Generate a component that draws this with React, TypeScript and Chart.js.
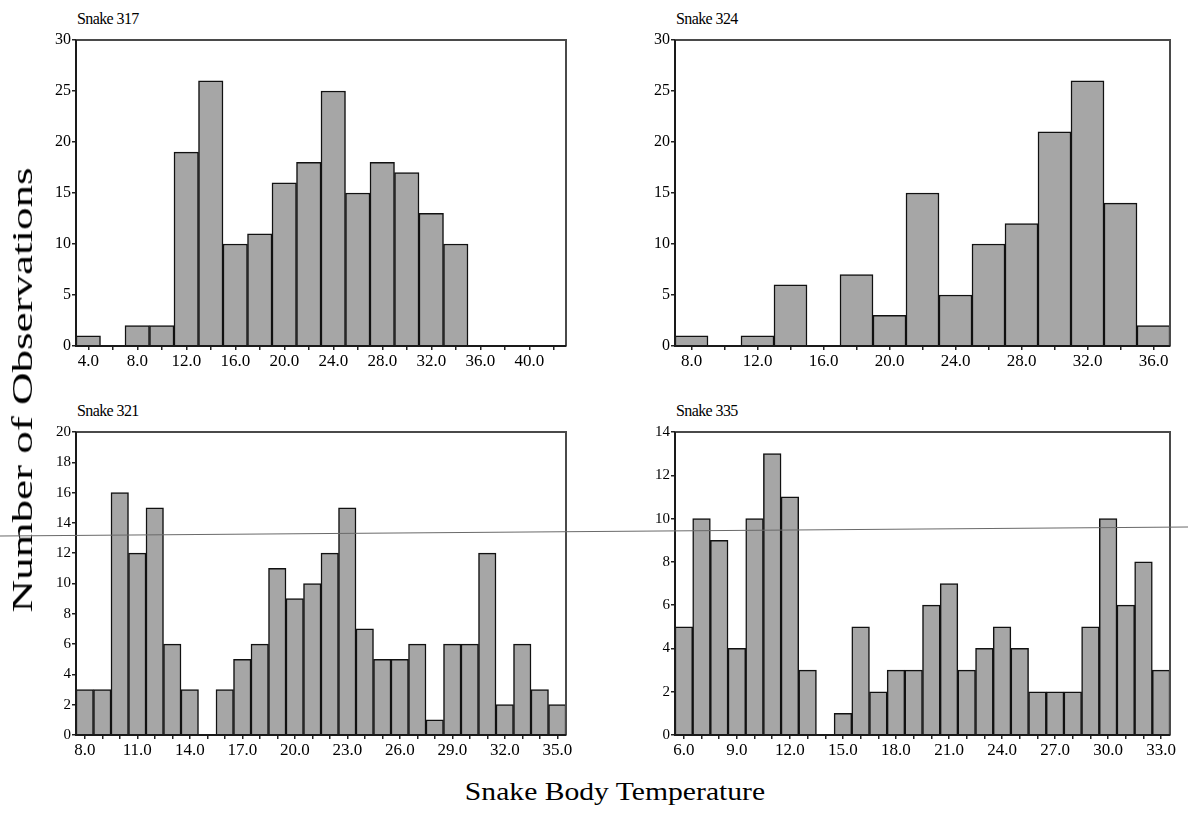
import React, { useEffect, useRef } from "react";
import { Chart, registerables } from "chart.js";

Chart.register(...registerables);

const FONT = '"Liberation Serif", serif';
Chart.defaults.font.family = FONT;

// ---- Snake 317 (bins of 2 °C) ----
const bins317 = ["4.0", "6.0", "8.0", "10.0", "12.0", "14.0", "16.0", "18.0", "20.0", "22.0", "24.0", "26.0", "28.0", "30.0", "32.0", "34.0", "36.0", "38.0", "40.0", "42.0"];
const counts317 = [1, 0, 2, 2, 19, 26, 10, 11, 16, 18, 25, 15, 18, 17, 13, 10, 0, 0, 0, 0];

// ---- Snake 324 (bins of 2 °C) ----
const bins324 = ["8.0", "10.0", "12.0", "14.0", "16.0", "18.0", "20.0", "22.0", "24.0", "26.0", "28.0", "30.0", "32.0", "34.0", "36.0"];
const counts324 = [1, 0, 1, 6, 0, 7, 3, 15, 5, 10, 12, 21, 26, 14, 2];

// ---- Snake 321 (bins of 1 °C) ----
const bins321 = ["8.0", "9.0", "10.0", "11.0", "12.0", "13.0", "14.0", "15.0", "16.0", "17.0", "18.0", "19.0", "20.0", "21.0", "22.0", "23.0", "24.0", "25.0", "26.0", "27.0", "28.0", "29.0", "30.0", "31.0", "32.0", "33.0", "34.0", "35.0"];
const counts321 = [3, 3, 16, 12, 15, 6, 3, 0, 3, 5, 6, 11, 9, 10, 12, 15, 7, 5, 5, 6, 1, 6, 6, 12, 2, 6, 3, 2];

// ---- Snake 335 (bins of 1 °C) ----
const bins335 = ["6.0", "7.0", "8.0", "9.0", "10.0", "11.0", "12.0", "13.0", "14.0", "15.0", "16.0", "17.0", "18.0", "19.0", "20.0", "21.0", "22.0", "23.0", "24.0", "25.0", "26.0", "27.0", "28.0", "29.0", "30.0", "31.0", "32.0", "33.0"];
const counts335 = [5, 10, 9, 4, 10, 13, 11, 3, 0, 1, 5, 2, 3, 3, 6, 7, 3, 4, 5, 4, 2, 2, 2, 5, 10, 6, 8, 3];

const yTitle = "Number of Observations";
const xTitle = "Snake Body Temperature";

const framePlugin = {
  id: "frame",
  afterDatasetsDraw(chart: any) {
    const { ctx, chartArea: a } = chart;
    ctx.save();
    ctx.lineWidth = 2;
    ctx.strokeStyle = "#4a4a4a";
    ctx.beginPath();
    ctx.moveTo(a.left, a.top);
    ctx.lineTo(a.right, a.top);
    ctx.lineTo(a.right, a.bottom);
    ctx.stroke();
    ctx.strokeStyle = "#1a1a1a";
    ctx.beginPath();
    ctx.moveTo(a.left, a.top);
    ctx.lineTo(a.left, a.bottom);
    ctx.lineTo(a.right, a.bottom);
    ctx.stroke();
    ctx.restore();
  },
};

const PAD_L = 50;
const PAD_T = 12;
const PAD_R = 12;
const PAD_B = 32;

type PanelProps = {
  title: string;
  bins: string[];
  counts: number[];
  yMax: number;
  yStep: number;
  labelEvery: number;
  yFont: number;
  left: number;
  top: number;
  width: number;
  height: number;
};

function Panel(p: PanelProps) {
  const ref = useRef<HTMLCanvasElement>(null);
  useEffect(() => {
    let chart: Chart | null = null;
    let cancelled = false;
    const make = () => {
      if (cancelled || !ref.current) return;
      chart = new Chart(ref.current, {
        type: "bar",
        data: {
          labels: p.bins,
          datasets: [
            {
              data: p.counts,
              backgroundColor: "#a6a6a6",
              borderColor: "#111111",
              borderWidth: 1.5,
              borderSkipped: "start",
              barPercentage: 1,
              categoryPercentage: 1,
            },
          ],
        },
        options: {
          responsive: false,
          animation: false,
          devicePixelRatio: 1,
          font: { family: FONT },
          layout: { padding: { top: PAD_T, right: PAD_R, left: 0, bottom: 0 } },
          plugins: {
            legend: { display: false },
            tooltip: { enabled: false },
            title: { display: false },
          },
          scales: {
            x: {
              type: "category",
              offset: true,
              grid: {
                display: true,
                offset: false,
                drawOnChartArea: false,
                drawTicks: true,
                tickLength: 4,
                color: "#222",
                lineWidth: 1.5,
              },
              border: { display: true, color: "#222", width: 2 },
              ticks: {
                autoSkip: false,
                maxRotation: 0,
                minRotation: 0,
                padding: 1,
                color: "#000",
                font: { family: FONT, size: 17, weight: "normal" },
                callback: (_v: any, i: number) => (i % p.labelEvery === 0 ? p.bins[i] : ""),
              },
              afterFit: (s: any) => {
                s.height = PAD_B;
              },
            },
            y: {
              min: 0,
              max: p.yMax,
              grid: {
                display: true,
                drawOnChartArea: false,
                drawTicks: true,
                tickLength: 4,
                color: "#222",
                lineWidth: 1.5,
              },
              border: { display: true, color: "#222", width: 2 },
              ticks: {
                stepSize: p.yStep,
                padding: 1,
                color: "#000",
                font: { family: FONT, size: p.yFont, weight: "normal" },
              },
              afterFit: (s: any) => {
                s.width = PAD_L;
              },
            },
          },
        },
        plugins: [framePlugin],
      });
    };
    const fonts: any = (document as any).fonts;
    if (fonts && fonts.load) {
      Promise.all([
        fonts.load('16px "Liberation Serif"'),
        fonts.load('17px "Liberation Serif"'),
      ]).then(make, make);
    } else {
      make();
    }
    return () => {
      cancelled = true;
      if (chart) chart.destroy();
    };
  }, []);

  return (
    <>
      <div
        style={{
          position: "absolute",
          left: p.left + 1,
          top: p.top - 30,
          fontFamily: FONT,
          fontSize: 16,
          lineHeight: "18px",
          color: "#000",
          letterSpacing: "-0.6px",
          whiteSpace: "nowrap",
        }}
      >
        {p.title}
      </div>
      <canvas
        ref={ref}
        width={p.width + PAD_L + PAD_R}
        height={p.height + PAD_T + PAD_B}
        style={{ position: "absolute", left: p.left - PAD_L, top: p.top - PAD_T, display: "block" }}
      />
    </>
  );
}

export default function App() {
  return (
    <div
      style={{
        position: "absolute",
        left: 0,
        top: 0,
        width: 1188,
        height: 820,
        background: "#fff",
        overflow: "hidden",
        fontFamily: FONT,
      }}
    >
      <Panel title="Snake 317" bins={bins317} counts={counts317} yMax={30} yStep={5} labelEvery={2} yFont={16}
        left={76} top={40} width={490} height={306} />
      <Panel title="Snake 324" bins={bins324} counts={counts324} yMax={30} yStep={5} labelEvery={2} yFont={16}
        left={675} top={40} width={495} height={306} />
      <Panel title="Snake 321" bins={bins321} counts={counts321} yMax={20} yStep={2} labelEvery={3} yFont={15}
        left={76} top={432} width={490} height={303} />
      <Panel title="Snake 335" bins={bins335} counts={counts335} yMax={14} yStep={2} labelEvery={3} yFont={15}
        left={675} top={432} width={495} height={303} />

      <div
        style={{
          position: "absolute",
          left: 22,
          top: 390,
          transform: "translate(-50%, -50%) rotate(-90deg) scaleX(1.5)",
          fontFamily: FONT,
          fontSize: 30,
          whiteSpace: "nowrap",
          color: "#000",
          lineHeight: "32px",
        }}
      >
        {yTitle}
      </div>
      <div
        style={{
          position: "absolute",
          left: 615,
          top: 792,
          transform: "translate(-50%, -50%) scaleX(1.14)",
          fontFamily: FONT,
          fontSize: 26,
          whiteSpace: "nowrap",
          color: "#000",
          lineHeight: "28px",
        }}
      >
        {xTitle}
      </div>
      <div
        style={{
          position: "absolute",
          left: 0,
          top: 531,
          width: 1188,
          height: 1,
          background: "#6a6a6a",
          transform: "rotate(-0.43deg)",
          zIndex: 2,
        }}
      />
    </div>
  );
}
